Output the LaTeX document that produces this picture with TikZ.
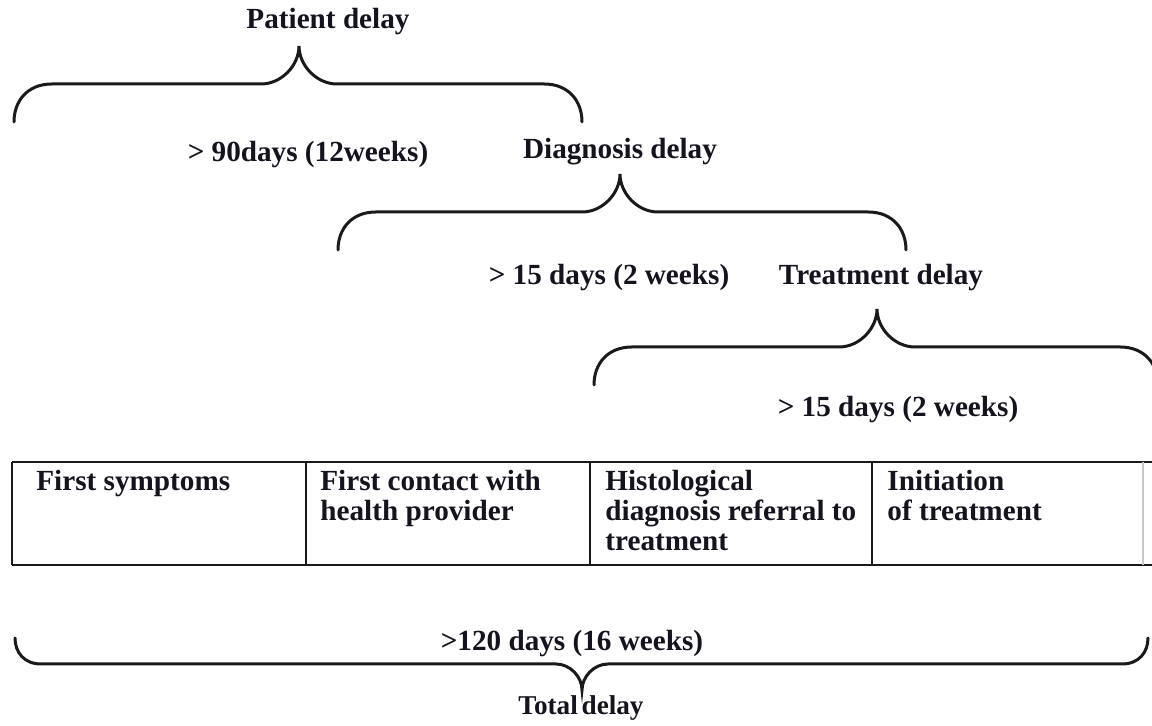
\documentclass[tikz,border=0pt]{standalone}
\usepackage{fontspec}
\setmainfont{Liberation Serif}
\usepackage{tikz}
\usetikzlibrary{positioning,calc}
\definecolor{dlink}{HTML}{14141E}
\definecolor{dlline}{HTML}{1A1A1A}
\definecolor{dlfaint}{HTML}{C8C8C8}
\tikzset{
  lbl/.style={inner sep=0pt,font=\fontsize{14.6}{15}\selectfont\bfseries,text=dlink},
  cell/.style={lbl,anchor=north west,align=left},
  brc/.style={draw=dlline,line width=1.5pt,line cap=round},
  grid/.style={draw=dlline,line width=1.2pt},
}
\begin{document}
\begin{tikzpicture}[x=0.5pt,y=0.5pt]
  \fill[white] (0,0) rectangle (1152,726);
  \useasboundingbox (0,0) rectangle (1152,726);
  % braces: left / peak / right / tip y / depth
  \foreach \xl/\xm/\xr/\yt/\dd in {14/299/582/604/38, 338/620/906/476/38, 594/877/1158/341/38, 15/582/1148/88/-26}{
    \draw[brc] (\xl,\yt) .. controls (\xl,{\yt+0.55*\dd}) and ({\xl+0.35*abs(\dd)},{\yt+\dd}) .. ({\xl+abs(\dd)},{\yt+\dd})
      -- ({\xm-abs(\dd)},{\yt+\dd}) .. controls ({\xm-0.45*abs(\dd)},{\yt+\dd}) and (\xm,{\yt+1.5*\dd}) .. (\xm,{\yt+2*\dd})
      .. controls (\xm,{\yt+1.5*\dd}) and ({\xm+0.45*abs(\dd)},{\yt+\dd}) .. ({\xm+abs(\dd)},{\yt+\dd})
      -- ({\xr-abs(\dd)},{\yt+\dd}) .. controls ({\xr-0.35*abs(\dd)},{\yt+\dd}) and (\xr,{\yt+0.55*\dd}) .. (\xr,\yt);
  }
  \node[lbl] (patient) at (328,704) {Patient delay};
  \node[lbl] (pdays) at (308,571) {> 90days (12weeks)};
  \node[lbl] (diag) at (620,574) {Diagnosis delay};
  \node[lbl] (ddays) at (609,448) {> 15 days (2 weeks)};
  \node[lbl] (treat) at (881,448) {Treatment delay};
  \node[lbl] (tdays) at (898,316) {> 15 days (2 weeks)};
  \node[lbl] (alldays) at (572,82) {>120 days (16 weeks)};
  \node[lbl,anchor=north,font=\fontsize{13.6}{14}\selectfont\bfseries] (total) at (581,31) {Total\hspace{-1.5pt} delay};
  % table
  \draw[grid] (12,264) -- (1160,264) (12,161) -- (1160,161) (12,264) -- (12,161);
  \foreach \x in {306,590,872}{\draw[grid] (\x,264) -- (\x,161);}
  \draw[dlfaint,line width=0.8pt] (1143,264) -- (1143,161);
  \node[cell] (symp) at (36,256) {First symptoms};
  \node[cell] (contact) at (320,256) {First contact with\\health provider};
  \node[cell] (histo) at (605,256) {Histological\\diagnosis referral to\\treatment};
  \node[cell] (init) at (887,256) {Initiation\\of treatment};
\end{tikzpicture}
\end{document}
